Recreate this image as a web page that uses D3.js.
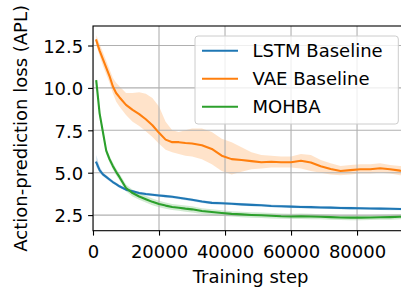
<!DOCTYPE html>
<html>
<head>
<meta charset="utf-8">
<script src="https://cdn.jsdelivr.net/npm/d3@7"></script>
<style>
  body { margin: 0; background: #fff; }
  svg { display: block; font-family: "DejaVu Sans", sans-serif; }
</style>
</head>
<body>
<svg id="chart"></svg>
<script>
// Training steps shared by all series
const steps = [1000,2000,3000,4000,5000,6000,7000,8000,10000,12000,14000,16000,18000,20000,22000,24000,26000,28000,30000,33000,36000,39000,42000,45000,48000,51000,54000,57000,60000,63000,66000,69000,72000,75000,78000,81000,84000,87000,90000,93000,95000];

const lstm   = [5.6,5.15,4.9,4.75,4.6,4.45,4.33,4.2,4.0,3.9,3.8,3.74,3.7,3.66,3.62,3.58,3.52,3.46,3.4,3.3,3.22,3.2,3.17,3.13,3.1,3.08,3.04,3.02,3.0,2.98,2.97,2.95,2.94,2.92,2.91,2.9,2.89,2.88,2.87,2.86,2.85];
const lstmLo = [5.35,5.0,4.8,4.65,4.5,4.36,4.24,4.11,3.92,3.82,3.72,3.66,3.62,3.58,3.54,3.5,3.44,3.38,3.32,3.22,3.14,3.12,3.09,3.05,3.02,3.0,2.96,2.94,2.92,2.9,2.89,2.87,2.86,2.84,2.83,2.82,2.81,2.8,2.79,2.78,2.77];
const lstmHi = [6.05,5.35,5.02,4.85,4.7,4.54,4.42,4.29,4.08,3.98,3.88,3.82,3.78,3.74,3.7,3.66,3.6,3.54,3.48,3.38,3.3,3.28,3.25,3.21,3.18,3.16,3.12,3.1,3.08,3.06,3.05,3.03,3.02,3.0,2.99,2.98,2.97,2.96,2.95,2.94,2.93];

const vae   = [12.8,12.2,11.7,11.2,10.7,10.1,9.7,9.45,9.0,8.7,8.45,8.15,7.8,7.35,6.95,6.8,6.8,6.75,6.72,6.62,6.4,6.0,5.8,5.75,5.68,5.62,5.65,5.62,5.62,5.7,5.6,5.38,5.22,5.1,5.15,5.2,5.2,5.26,5.2,5.12,5.08];
const vaeLo = [12.5,11.9,11.3,10.8,10.3,9.7,9.2,8.9,8.4,8.0,7.75,7.45,7.1,6.7,6.35,6.2,6.1,6.0,5.95,5.8,5.5,5.1,4.9,5.05,5.2,5.25,5.3,5.3,5.3,5.25,5.1,5.0,4.9,4.85,4.9,4.95,4.95,5.0,4.95,4.85,4.85];
const vaeHi = [13.1,12.6,12.1,11.6,11.1,10.6,10.3,10.1,9.7,9.7,9.75,9.65,9.4,8.9,8.0,7.5,7.4,7.5,7.6,7.6,7.4,7.0,6.8,6.5,6.2,6.05,6.0,5.95,5.95,6.1,6.05,5.75,5.55,5.4,5.45,5.5,5.5,5.55,5.45,5.4,5.35];

const mohba   = [10.4,8.5,7.4,6.3,5.8,5.4,5.05,4.75,4.1,3.8,3.6,3.44,3.28,3.15,3.06,2.98,2.93,2.88,2.84,2.74,2.68,2.62,2.57,2.54,2.51,2.49,2.46,2.43,2.42,2.43,2.42,2.4,2.38,2.36,2.35,2.35,2.36,2.37,2.38,2.4,2.4];
const mohbaLo = [10.2,8.3,7.2,6.1,5.6,5.2,4.85,4.55,3.9,3.6,3.4,3.24,3.08,2.96,2.87,2.8,2.75,2.7,2.66,2.57,2.51,2.45,2.41,2.38,2.35,2.33,2.3,2.28,2.27,2.27,2.26,2.25,2.23,2.21,2.2,2.2,2.21,2.22,2.23,2.25,2.25];
const mohbaHi = [10.6,8.7,7.6,6.5,6.0,5.6,5.25,4.95,4.3,4.0,3.8,3.64,3.48,3.34,3.25,3.16,3.11,3.06,3.02,2.91,2.85,2.79,2.73,2.7,2.67,2.65,2.62,2.59,2.58,2.59,2.58,2.55,2.53,2.51,2.5,2.5,2.51,2.52,2.53,2.55,2.55];

const seriesNames = ["LSTM Baseline", "VAE Baseline", "MOHBA"];
const xTicks = [0, 20000, 40000, 60000, 80000];
const yTicks = [2.5, 5.0, 7.5, 10.0, 12.5];

const series = [
    { name: seriesNames[0], color: "#1f77b4", mean: lstm, lo: lstmLo, hi: lstmHi },
    { name: seriesNames[1], color: "#ff7f0e", mean: vae, lo: vaeLo, hi: vaeHi },
    { name: seriesNames[2], color: "#2ca02c", mean: mohba, lo: mohbaLo, hi: mohbaHi },
];

// Window dimensions
const width = 401;
const height = 293;
// plot box (right side runs a bit past the window, like the original)
const plotLeft = 93, plotRight = 408.2, plotTop = 26, plotBottom = 230.7;

const svg = d3.select("#chart")
    .attr("width", width)
    .attr("height", height);

const x = d3.scaleLinear().domain([0, 95500]).range([plotLeft, plotRight]);
const y = d3.scaleLinear().domain([1.58, 13.65]).range([plotBottom, plotTop]);

svg.append("clipPath").attr("id", "plotClip")
    .append("rect")
    .attr("x", plotLeft).attr("y", plotTop)
    .attr("width", plotRight - plotLeft).attr("height", plotBottom - plotTop);

const plot = svg.append("g").attr("clip-path", "url(#plotClip)");

// Shaded bands
const area = d3.area()
    .x((d, i) => x(steps[i]))
    .y0(d => y(d[0]))
    .y1(d => y(d[1]));

plot.append("g").selectAll("path")
    .data(series)
    .join("path")
    .attr("d", s => area(s.lo.map((v, i) => [v, s.hi[i]])))
    .attr("fill", s => s.color)
    .attr("fill-opacity", 0.22)
    .attr("stroke", "none");

// Grid lines sit above bands, below lines
const grid = plot.append("g").attr("stroke", "#b0b0b0").attr("stroke-width", 1.1);
grid.selectAll(".gx").data(xTicks).join("line")
    .attr("x1", d => x(d)).attr("x2", d => x(d))
    .attr("y1", plotTop).attr("y2", plotBottom);
grid.selectAll(".gy").data(yTicks).join("line")
    .attr("y1", d => y(d)).attr("y2", d => y(d))
    .attr("x1", plotLeft).attr("x2", plotRight);

// Mean curves
const line = d3.line()
    .x((d, i) => x(steps[i]))
    .y(d => y(d));

plot.append("g").selectAll("path")
    .data(series)
    .join("path")
    .attr("d", s => line(s.mean))
    .attr("fill", "none")
    .attr("stroke", s => s.color)
    .attr("stroke-width", 2.1)
    .attr("stroke-linejoin", "round")
    .attr("stroke-linecap", "square");

// Axes
const xAxis = svg.append("g")
    .attr("transform", `translate(0,${plotBottom})`)
    .call(d3.axisBottom(x).tickValues(xTicks).tickFormat(d3.format("d")).tickSize(4.9).tickSizeOuter(0));
xAxis.selectAll("text").attr("y", 27.6).attr("dy", null);

const yAxis = svg.append("g")
    .attr("transform", `translate(${plotLeft},0)`)
    .call(d3.axisLeft(y).tickValues(yTicks).tickFormat(d3.format(".1f")).tickSize(4.9).tickPadding(4.9).tickSizeOuter(0));
yAxis.selectAll("text").attr("dy", "0.38em");

svg.selectAll(".domain").remove();
svg.selectAll(".tick line").attr("stroke", "#000").attr("stroke-width", 1.1);
svg.selectAll(".tick text").attr("font-size", 18).attr("font-family", "DejaVu Sans").attr("fill", "#000");

// Spines
svg.append("rect")
    .attr("x", plotLeft).attr("y", plotTop)
    .attr("width", plotRight - plotLeft).attr("height", plotBottom - plotTop)
    .attr("fill", "none")
    .attr("stroke", "#000")
    .attr("stroke-width", 1.1);

// Axis labels
svg.append("text")
    .attr("x", (plotLeft + plotRight) / 2)
    .attr("y", 283)
    .attr("text-anchor", "middle")
    .attr("font-size", 18)
    .text("Training step");

svg.append("text")
    .attr("transform", `translate(27,${(plotTop + plotBottom) / 2}) rotate(-90)`)
    .attr("text-anchor", "middle")
    .attr("font-size", 18)
    .text("Action-prediction loss (APL)");

// Legend
const legendBox = { x: 195, y: 36, w: 203.3, h: 88 };
const legend = svg.append("g");
legend.append("rect")
    .attr("x", legendBox.x).attr("y", legendBox.y)
    .attr("width", legendBox.w).attr("height", legendBox.h)
    .attr("rx", 3)
    .attr("fill", "#fff").attr("fill-opacity", 0.8)
    .attr("stroke", "#cccccc").attr("stroke-width", 1);

const rows = legend.selectAll(".row")
    .data(series)
    .join("g")
    .attr("transform", (d, i) => `translate(0,${50.7 + i * 28})`);

rows.append("line")
    .attr("x1", 202).attr("x2", 238)
    .attr("y1", 0).attr("y2", 0)
    .attr("stroke", d => d.color)
    .attr("stroke-width", 2.1);

rows.append("text")
    .attr("x", 252.6)
    .attr("y", 6.6)
    .attr("font-size", 18)
    .text(d => d.name);
</script>
</body>
</html>
